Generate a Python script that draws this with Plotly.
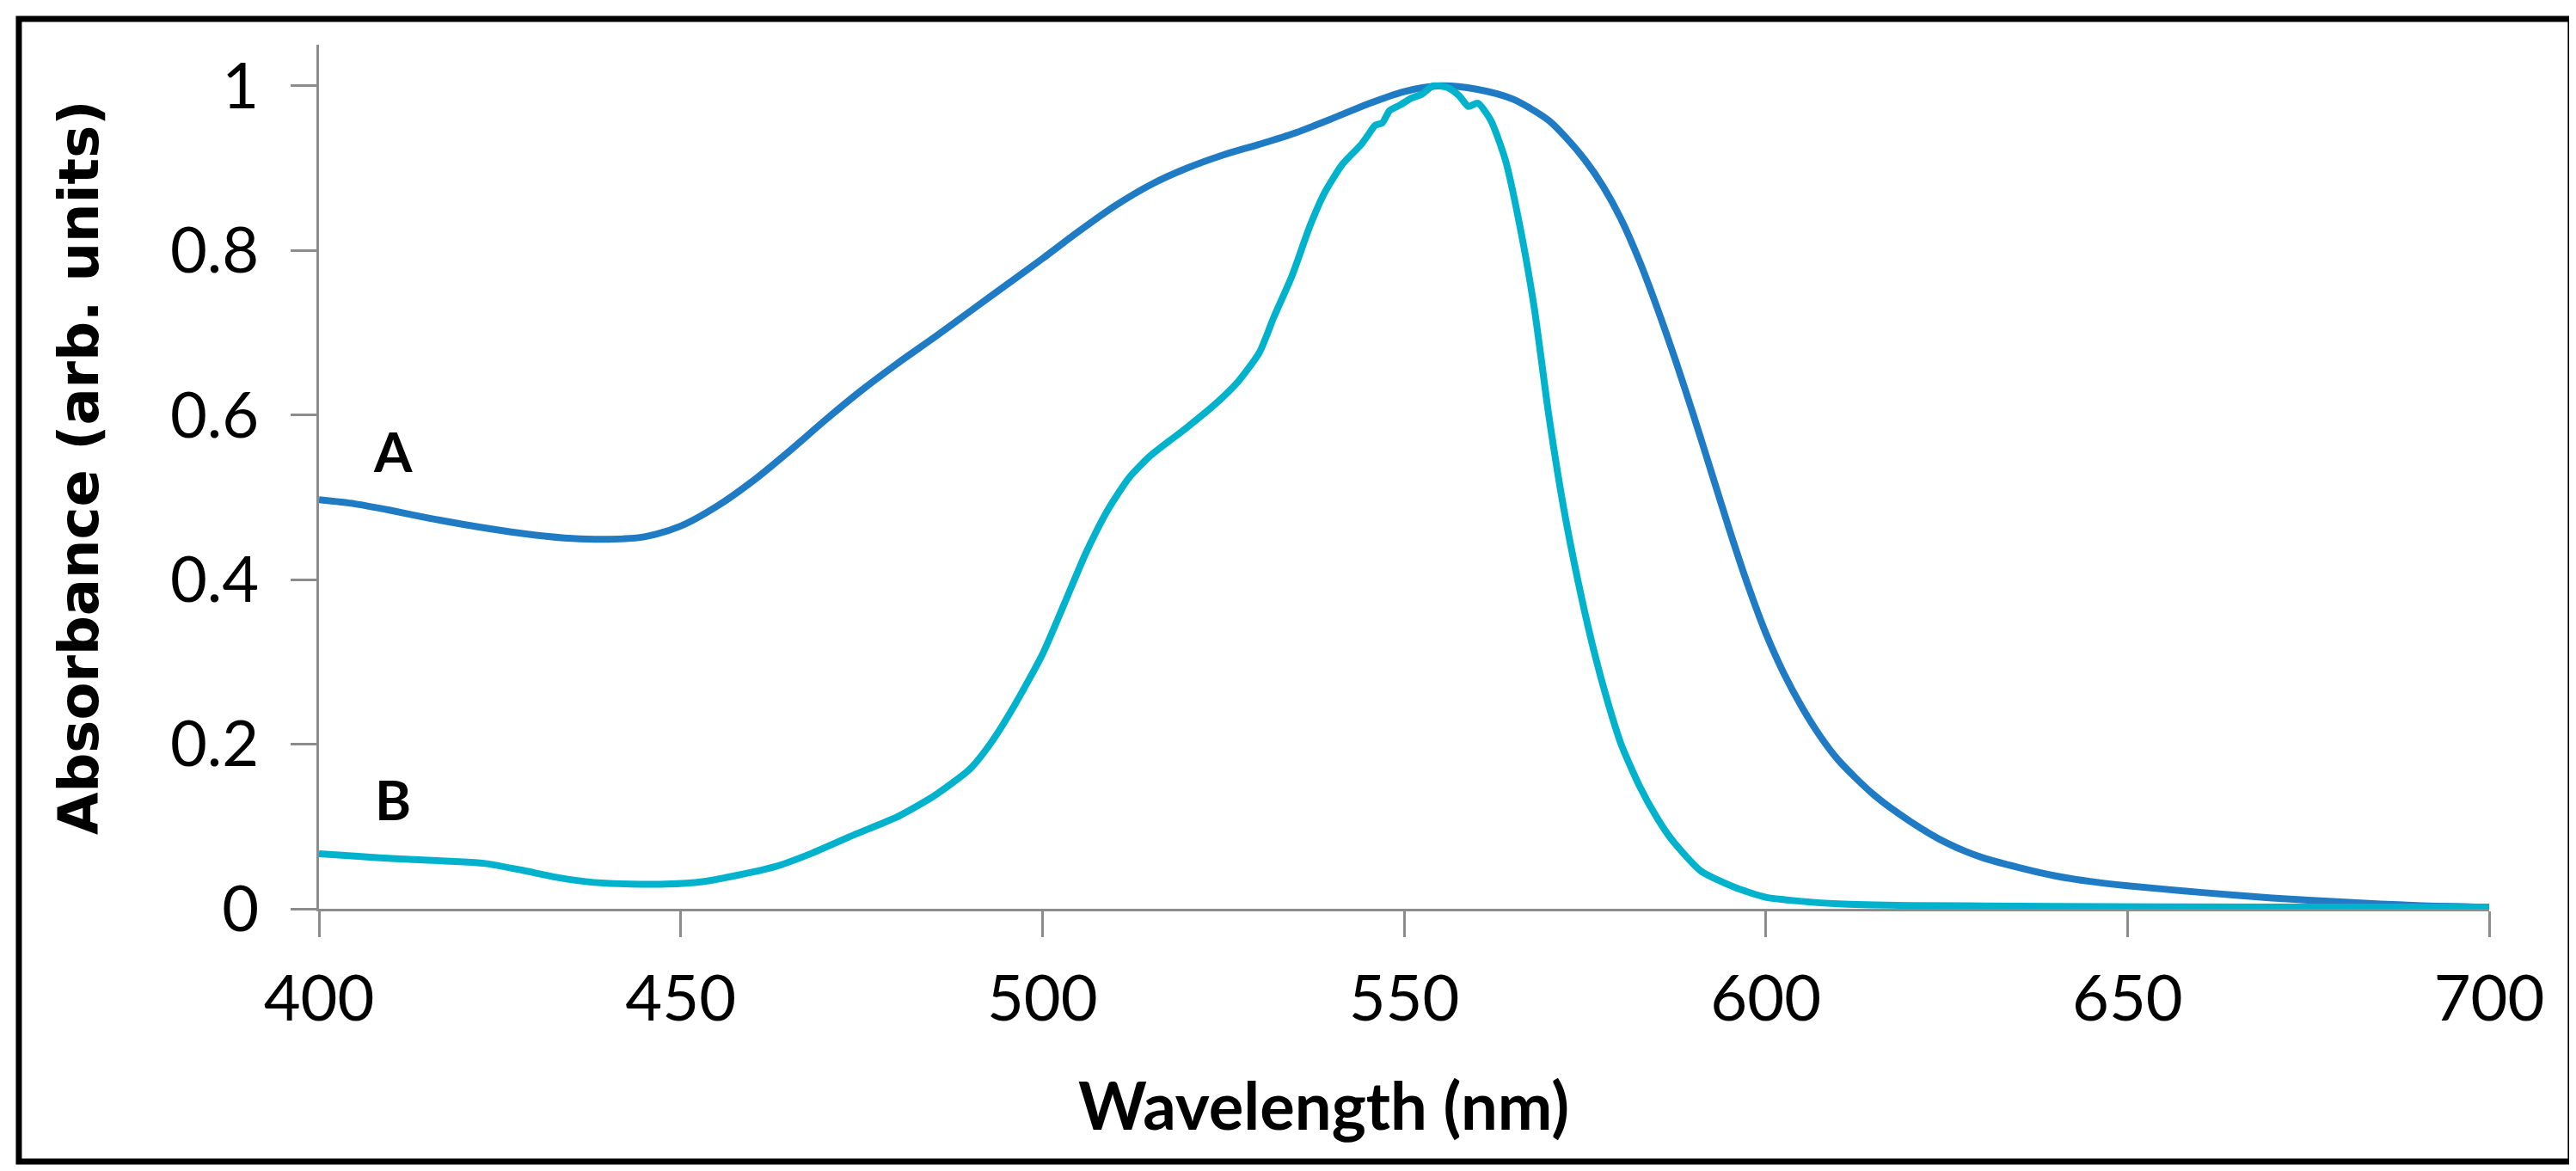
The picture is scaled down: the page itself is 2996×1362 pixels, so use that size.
#Absorbance spectra of samples A and B

import plotly.graph_objects as go

#Curve A
wl_a = [400, 405, 410, 415, 420, 425, 430, 435, 440, 445, 450, 455, 460, 465, 470, 475,
        480, 485, 490, 495, 500, 505, 510, 515, 520, 525, 530, 535, 540, 545, 550, 555,
        560, 565, 570, 572.5, 575, 577.5, 580, 582.5, 585, 587.5, 590, 592.5, 595, 597.5,
        600, 602.5, 605, 607.5, 610, 615, 620, 625, 630, 635, 640, 645, 650, 660, 670,
        680, 690, 700]
abs_a = [0.497, 0.492, 0.484, 0.475, 0.467, 0.460, 0.454, 0.450, 0.449, 0.452, 0.465, 0.489,
         0.520, 0.556, 0.594, 0.630, 0.663, 0.694, 0.726, 0.758, 0.790, 0.823, 0.854, 0.880,
         0.900, 0.916, 0.929, 0.943, 0.960, 0.978, 0.993, 1.000, 0.996, 0.984, 0.958, 0.936,
         0.910, 0.878, 0.838, 0.788, 0.730, 0.667, 0.600, 0.530, 0.460, 0.394, 0.335, 0.286,
         0.245, 0.210, 0.181, 0.138, 0.106, 0.080, 0.062, 0.050, 0.040, 0.033, 0.028, 0.020,
         0.013, 0.008, 0.004, 0.002]

#Curve B
wl_b = [400, 405, 410, 415, 420, 423, 428, 433, 438, 443, 448, 453, 458, 463, 468, 474,
        480, 485, 490, 493, 496, 500, 503, 506, 509, 512, 515, 520, 524, 527, 530, 532,
        534.5, 537, 539, 541.5, 544, 545, 546, 547, 548, 549.5, 551, 552.5, 554, 556,
        557.6, 558.9, 560.2, 562, 564, 566, 568, 570, 572, 574, 576, 578, 580, 582.5,
        585, 587, 591, 596, 600, 605, 610, 620, 640, 670, 700]
abs_b = [0.067, 0.064, 0.061, 0.059, 0.057, 0.055, 0.047, 0.038, 0.032, 0.030, 0.030, 0.033,
         0.041, 0.051, 0.067, 0.090, 0.112, 0.137, 0.170, 0.203, 0.245, 0.309, 0.370, 0.432,
         0.484, 0.524, 0.551, 0.585, 0.614, 0.640, 0.676, 0.719, 0.769, 0.830, 0.870, 0.905,
         0.928, 0.940, 0.952, 0.955, 0.970, 0.977, 0.985, 0.990, 1.000, 0.998, 0.988, 0.975,
         0.979, 0.958, 0.910, 0.830, 0.730, 0.600, 0.490, 0.400, 0.322, 0.256, 0.200, 0.150,
         0.110, 0.084, 0.046, 0.025, 0.014, 0.009, 0.006, 0.004, 0.003, 0.002, 0.002]

x_ticks = [400, 450, 500, 550, 600, 650, 700]
y_ticks = [0, 0.2, 0.4, 0.6, 0.8, 1]
y_tick_text = ['0', '0.2', '0.4', '0.6', '0.8', '1']

fig = go.Figure()
fig.add_trace(go.Scatter(x=wl_a, y=abs_a, mode='lines', name='A',
                         line=dict(color='#1f7bc4', width=8, shape='spline', smoothing=0.8)))
fig.add_trace(go.Scatter(x=wl_b, y=abs_b, mode='lines', name='B',
                         line=dict(color='#00b2cc', width=8, shape='spline', smoothing=0.6)))

#Curve labels
fig.add_annotation(x=410.2, y=0.556, text='<b>A</b>', showarrow=False,
                   font=dict(family='Lato', size=64, color='black'))
fig.add_annotation(x=410.2, y=0.133, text='<b>B</b>', showarrow=False,
                   font=dict(family='Lato', size=64, color='black'))

#Axis titles
fig.add_annotation(xref='paper', yref='paper', x=0.4628, y=-0.274, text='<b>Wavelength (nm)</b>',
                   showarrow=False, font=dict(family='Lato', size=76, color='black'))
fig.add_annotation(xref='paper', yref='paper', x=-0.126, y=0.5114, textangle=-90,
                   text='<b>Absorbance (arb. units)</b>', showarrow=False,
                   font=dict(family='DejaVu Sans', size=64, color='black'))

#Black frame round the whole picture
fig.add_shape(type='rect', xref='paper', yref='paper', x0=-0.1383, x1=1.0376, y0=-0.2925, y1=1.0299,
              line=dict(color='black', width=7))

fig.update_xaxes(range=[400, 700], tickvals=x_ticks, showgrid=False, zeroline=False,
                 showline=True, linecolor='#8c8c8c', linewidth=3,
                 ticks='outside', ticklen=30, tickwidth=3, tickcolor='#8c8c8c',
                 ticklabelstandoff=8,
                 tickfont=dict(family='Lato', size=74, color='black'))
fig.update_yaxes(range=[0, 1.05], tickvals=y_ticks, ticktext=y_tick_text, showgrid=False, zeroline=False,
                 showline=True, linecolor='#8c8c8c', linewidth=3,
                 ticks='outside', ticklen=30, tickwidth=3, tickcolor='#8c8c8c',
                 ticklabelstandoff=22,
                 tickfont=dict(family='Lato', size=74, color='black'))

fig.update_layout(width=2996, height=1362, showlegend=False,
                  paper_bgcolor='white', plot_bgcolor='white',
                  margin=dict(l=363, r=109, t=44, b=313))

fig.write_html("out.html")
